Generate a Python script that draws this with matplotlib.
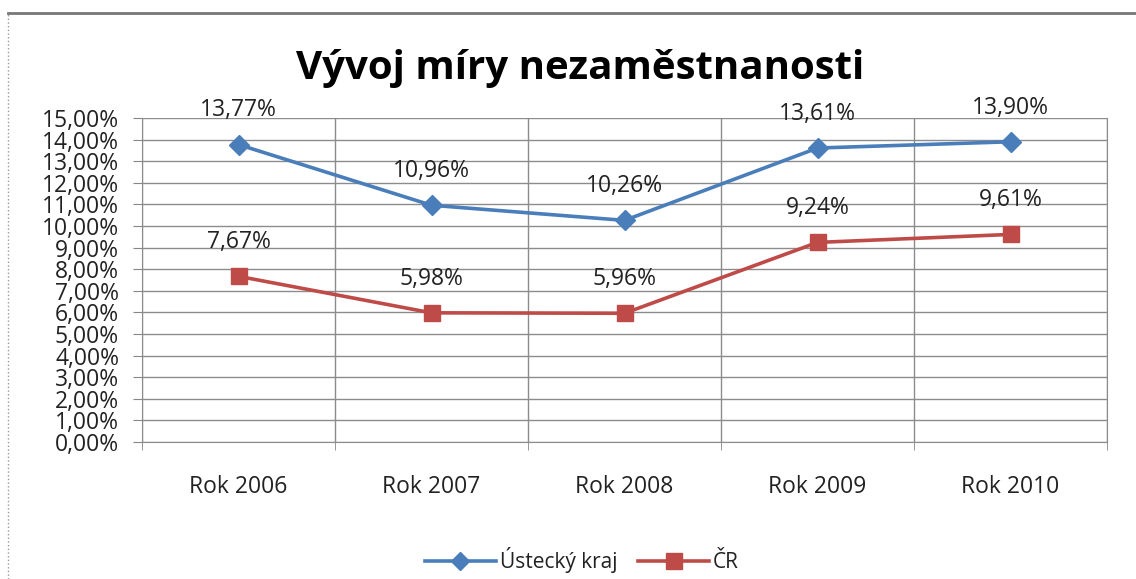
import matplotlib
matplotlib.use('Agg')
import matplotlib.pyplot as plt
from matplotlib.lines import Line2D
import numpy as np

years = ['Rok 2006', 'Rok 2007', 'Rok 2008', 'Rok 2009', 'Rok 2010']
ustecky = [13.77, 10.96, 10.26, 13.61, 13.90]
cr = [7.67, 5.98, 5.96, 9.24, 9.61]
series_names = ['Ústecký kraj', 'ČR']

plt.rcParams['font.family'] = ['Open Sans', 'DejaVu Sans']

W, H = 1136, 579
fig = plt.figure(figsize=(W / 100, H / 100), dpi=100)
ax = fig.add_axes([142 / W, 1 - 442 / H, (1107 - 142) / W, (442 - 118) / H])

x = np.arange(len(years))
ax.plot(x, ustecky, color='#4A7EBB', lw=2.6, marker='D', ms=10, zorder=3)
ax.plot(x, cr, color='#BE4B48', lw=2.6, marker='s', ms=12, zorder=3)

def pct(v):
    return f'{v:.2f}%'.replace('.', ',')

for xi, v in zip(x, ustecky):
    ax.annotate(pct(v), (xi, v), xytext=(0, 16),
                textcoords='offset points', ha='center', va='bottom', fontsize=16.5, color='#222222')
for xi, v in zip(x, cr):
    ax.annotate(pct(v), (xi, v), xytext=(0, 16),
                textcoords='offset points', ha='center', va='bottom', fontsize=16.5, color='#222222')

ax.set_xlim(-0.5, len(years) - 0.5)
ax.set_ylim(0, 15)
ax.set_yticks(np.arange(0, 16, 1))
ax.set_yticklabels([pct(v) for v in np.arange(0, 16, 1)], fontsize=16.5)
ax.set_xticks(x)
ax.set_xticklabels(years, fontsize=16.5)
ax.set_xticks(np.arange(-0.5, len(years), 1), minor=True)
ax.tick_params(axis='x', which='major', length=0, pad=24)
ax.tick_params(axis='x', which='minor', length=6, color='#868686')
ax.tick_params(axis='y', length=6.5, color='#868686', pad=10, labelcolor='#222222')
ax.tick_params(axis='x', labelcolor='#222222')
ax.grid(True, axis='y', color='#8c8c8c', lw=1)
ax.grid(True, axis='x', which='minor', color='#8c8c8c', lw=1)
for s in ax.spines.values():
    s.set_color('#8c8c8c')
ax.spines['top'].set_visible(False)

fig.text(580 / W, 1 - 68 / H, 'Vývoj míry nezaměstnanosti', ha='center', va='center',
         fontsize=29, fontweight='bold', color='black')

handles = [Line2D([], [], color='#4A7EBB', lw=2.6, marker='D', ms=9),
           Line2D([], [], color='#BE4B48', lw=2.6, marker='s', ms=11)]
fig.legend(handles, series_names, loc='center', bbox_to_anchor=(582 / W, 1 - 560 / H),
           ncol=2, frameon=False, fontsize=15, handlelength=3.4, columnspacing=1.0,
           handletextpad=0.2, labelcolor='#222222')

# outer chart border
fig.add_artist(Line2D([8 / W, 8 / W], [0, 1 - 13 / H], transform=fig.transFigure,
                      color='#999999', lw=1, ls=':'))
fig.add_artist(Line2D([8 / W, 1], [1 - 13 / H, 1 - 13 / H], transform=fig.transFigure,
                      color='#777777', lw=2))

fig.savefig('out.png', dpi=100)
